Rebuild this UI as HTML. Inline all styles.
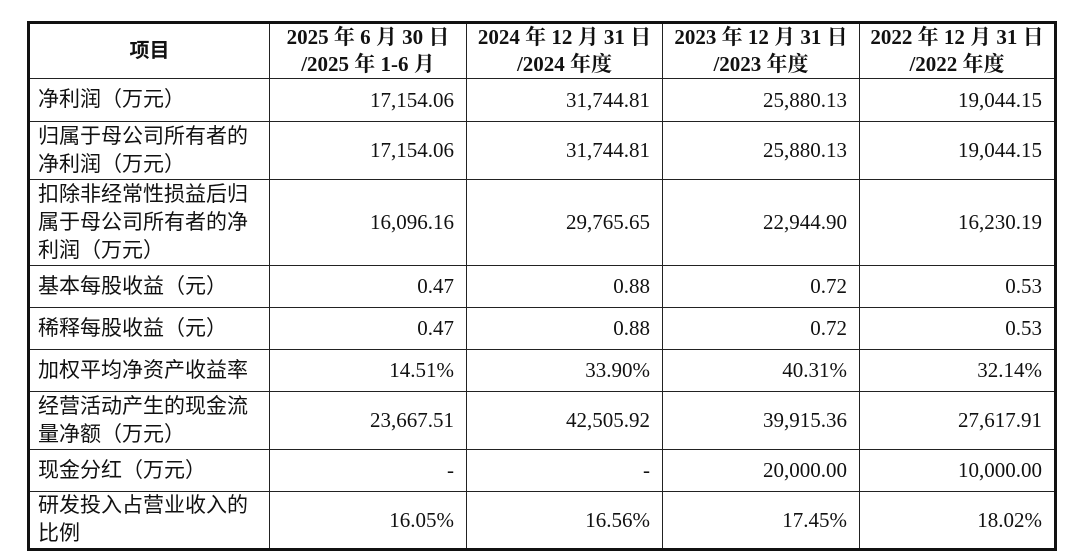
<!DOCTYPE html>
<html><head><meta charset="utf-8"><style>
html,body{margin:0;padding:0;background:#fff;width:1080px;height:559px;overflow:hidden}
table{position:absolute;left:27px;top:21px;border-collapse:collapse;border:3px solid #111;table-layout:fixed}
td{border:1.5px solid #222;padding:0;font-family:"Liberation Serif","Noto Serif CJK SC",serif;font-size:21px;color:#111;vertical-align:middle}
td.l{font-family:"Liberation Sans","Noto Sans CJK SC",sans-serif;font-size:21px;padding-left:8px;line-height:28px;text-align:left}
td.n{text-align:right;padding-right:12px}
th{border:1.5px solid #222;padding:0;font-family:"Liberation Serif","Noto Serif CJK SC",serif;font-size:21px;font-weight:bold;line-height:27px;text-align:center;color:#111}
th.h{font-family:"Liberation Sans","Noto Sans CJK SC",sans-serif;font-size:20px}
</style></head><body>
<table>
<colgroup><col style="width:241px"><col style="width:197px"><col style="width:196px"><col style="width:197px"><col style="width:196px"></colgroup>
<tr style="height:56px"><th class="h">项目</th><th>2025 年 6 月 30 日<br>/2025 年 1-6 月</th><th>2024 年 12 月 31 日<br>/2024 年度</th><th>2023 年 12 月 31 日<br>/2023 年度</th><th>2022 年 12 月 31 日<br>/2022 年度</th></tr>
<tr style="height:43px"><td class="l">净利润（万元）</td><td class="n">17,154.06</td><td class="n">31,744.81</td><td class="n">25,880.13</td><td class="n">19,044.15</td></tr>
<tr style="height:58px"><td class="l">归属于母公司所有者的<br>净利润（万元）</td><td class="n">17,154.06</td><td class="n">31,744.81</td><td class="n">25,880.13</td><td class="n">19,044.15</td></tr>
<tr style="height:86px"><td class="l">扣除非经常性损益后归<br>属于母公司所有者的净<br>利润（万元）</td><td class="n">16,096.16</td><td class="n">29,765.65</td><td class="n">22,944.90</td><td class="n">16,230.19</td></tr>
<tr style="height:42px"><td class="l">基本每股收益（元）</td><td class="n">0.47</td><td class="n">0.88</td><td class="n">0.72</td><td class="n">0.53</td></tr>
<tr style="height:42px"><td class="l">稀释每股收益（元）</td><td class="n">0.47</td><td class="n">0.88</td><td class="n">0.72</td><td class="n">0.53</td></tr>
<tr style="height:42px"><td class="l">加权平均净资产收益率</td><td class="n">14.51%</td><td class="n">33.90%</td><td class="n">40.31%</td><td class="n">32.14%</td></tr>
<tr style="height:58px"><td class="l">经营活动产生的现金流<br>量净额（万元）</td><td class="n">23,667.51</td><td class="n">42,505.92</td><td class="n">39,915.36</td><td class="n">27,617.91</td></tr>
<tr style="height:42px"><td class="l">现金分红（万元）</td><td class="n">-</td><td class="n">-</td><td class="n">20,000.00</td><td class="n">10,000.00</td></tr>
<tr style="height:57px"><td class="l">研发投入占营业收入的<br>比例</td><td class="n">16.05%</td><td class="n">16.56%</td><td class="n">17.45%</td><td class="n">18.02%</td></tr>
</table>
</body></html>
